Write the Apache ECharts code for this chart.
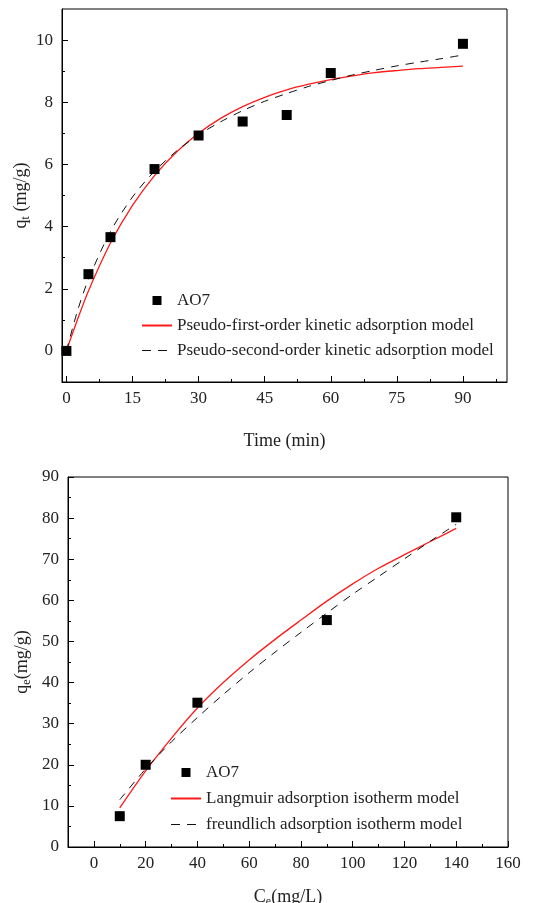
<!DOCTYPE html>
<html><head><meta charset="utf-8">
<script src="https://cdn.jsdelivr.net/npm/echarts@6/dist/echarts.min.js"></script>
<style>html,body{margin:0;padding:0;background:#fff}#c{width:545px;height:903px}</style>
</head><body><div id="c"></div>
<script>
// ---- Top chart: kinetics ----
const kinTime = [0, 5, 10, 20, 30, 40, 50, 60, 90];
const kinQt = [0, 2.47, 3.66, 5.85, 6.93, 7.38, 7.59, 8.94, 9.88];
const kinFitTime = [0, 2.5, 5, 10, 15, 20, 25, 30, 35, 40, 45, 50, 55, 60, 65, 70, 75, 80, 85, 90];
const pfoFit = [0, 1.0, 1.93, 3.47, 4.68, 5.64, 6.40, 7.00, 7.48, 7.86, 8.16, 8.40, 8.58, 8.73, 8.85, 8.95, 9.02, 9.08, 9.12, 9.16];
const psoFit = [0, 1.28, 2.30, 3.84, 4.95, 5.78, 6.43, 6.95, 7.37, 7.73, 8.03, 8.28, 8.51, 8.70, 8.88, 9.03, 9.17, 9.29, 9.40, 9.52];
const kinXTicks = [0, 15, 30, 45, 60, 75, 90];
const kinXMinor = [7.5, 22.5, 37.5, 52.5, 67.5, 82.5, 97.5];
const kinYTicks = [0, 2, 4, 6, 8, 10];
const kinYMinor = [1, 3, 5, 7, 9];

// ---- Bottom chart: isotherms ----
const isoCe = [10, 20, 40, 90, 140];
const isoQe = [7.5, 20.0, 35.1, 55.2, 80.2];
const isoFitCe = [10, 20, 30, 40, 50, 60, 70, 80, 90, 100, 110, 120, 130, 140];
const langFit = [9.5, 18.5, 26.5, 33.8, 40.0, 45.5, 50.5, 55.2, 59.8, 64.0, 67.8, 71.1, 74.3, 77.5];
const freundFit = [11.5, 19.0, 25.6, 31.5, 37.1, 42.4, 47.4, 52.2, 56.9, 61.5, 65.8, 70.1, 74.4, 78.5];
const isoXTicks = [0, 20, 40, 60, 80, 100, 120, 140, 160];
const isoXMinor = [10, 30, 50, 70, 90, 110, 130, 150];
const isoYTicks = [0, 10, 20, 30, 40, 50, 60, 70, 80, 90];
const isoYMinor = [5, 15, 25, 35, 45, 55, 65, 75, 85];

const FONT = 'Liberation Serif';
const TXT = '#222';
const RED = '#ff1a1a';
const sq = 'path://M0,0M30,14M10.5,2.5h9v9h-9z';

function pairs(xs, ys) { return xs.map((x, i) => [x, ys[i]]); }

function mainAxis(grid, min, max, ticks, name, gap, pos) {
  return {
    type: 'value', gridIndex: grid, min: min, max: max, position: pos,
    name: name, nameLocation: 'middle', nameGap: gap, nameMoveOverlap: false,
    nameTextStyle: { fontFamily: FONT, fontSize: 18, color: TXT, rich: {
      a: { fontFamily: FONT, fontSize: 18, color: TXT },
      s: { fontFamily: FONT, fontSize: 12, color: TXT, padding: [10, 0, 0, 0] } } },
    axisLine: { show: true, onZero: false, lineStyle: { color: '#000', width: 1 } },
    axisTick: { show: true, inside: true, length: 6, customValues: ticks, lineStyle: { color: '#000' } },
    axisLabel: { customValues: ticks, margin: pos === 'left' ? 9 : 8, fontFamily: FONT, fontSize: 17, color: TXT },
    splitLine: { show: false }
  };
}
function minorAxis(grid, min, max, ticks, pos) {
  return {
    type: 'value', gridIndex: grid, min: min, max: max, position: pos,
    axisLine: { show: false, onZero: false },
    axisTick: { show: true, inside: true, length: 3, customValues: ticks, lineStyle: { color: '#000' } },
    axisLabel: { show: false },
    splitLine: { show: false }
  };
}
function legendLine(name, dashed) {
  const d = { name: name, itemStyle: { opacity: 0 } };
  if (dashed) d.lineStyle = { type: [9, 7], width: 1.2 };
  return d;
}

const gridBase = { show: true, borderColor: '#000', borderWidth: 1, backgroundColor: 'transparent', containLabel: false, outerBoundsMode: 'none' };

const option = {
  animation: false,
  backgroundColor: '#fff',
  grid: [
    Object.assign({ left: 62, right: 38, top: 9, height: 373 }, gridBase),
    Object.assign({ left: 68, right: 37, top: 477, height: 370 }, gridBase)
  ],
  xAxis: [
    mainAxis(0, -1, 100, kinXTicks, 'Time (min)', 50, 'bottom'),
    minorAxis(0, -1, 100, kinXMinor, 'bottom'),
    mainAxis(1, -10, 160, isoXTicks, '{a|C}{s|e}{a|(mg/L)}', 39, 'bottom'),
    minorAxis(1, -10, 160, isoXMinor, 'bottom')
  ],
  yAxis: [
    Object.assign(mainAxis(0, -1, 11, kinYTicks, '{a|q}{s|t}{a| (mg/g)}', 30, 'left'), { nameRotate: 90 }),
    minorAxis(0, -1, 11, kinYMinor, 'left'),
    Object.assign(mainAxis(1, 0, 90, isoYTicks, '{a|q}{s|e}{a|(mg/g)}', 35, 'left'), { nameRotate: 90 }),
    minorAxis(1, 0, 90, isoYMinor, 'left')
  ],
  legend: [
    {
      orient: 'vertical', left: 136, top: 287, itemWidth: 30, itemHeight: 14, itemGap: 8,
      textStyle: { fontFamily: FONT, fontSize: 17, color: TXT, lineHeight: 16 },
      data: [{ name: 'AO7', icon: sq }, legendLine('Pseudo-first-order kinetic adsorption model'), legendLine('Pseudo-second-order kinetic adsorption model', true)]
    },
    {
      orient: 'vertical', left: 165, top: 759, itemWidth: 30, itemHeight: 14, itemGap: 9,
      textStyle: { fontFamily: FONT, fontSize: 17, color: TXT, lineHeight: 16 },
      data: [{ name: 'AO7 ', icon: sq }, legendLine('Langmuir adsorption isotherm model'), legendLine('freundlich adsorption isotherm model', true)]
    }
  ],
  series: [
    { name: 'Pseudo-first-order kinetic adsorption model', type: 'line', xAxisIndex: 0, yAxisIndex: 0,
      data: pairs(kinFitTime, pfoFit), smooth: 0.3, showSymbol: false, symbol: 'none',
      lineStyle: { color: RED, width: 1.3 }, itemStyle: { color: RED }, z: 2 },
    { name: 'Pseudo-second-order kinetic adsorption model', type: 'line', xAxisIndex: 0, yAxisIndex: 0,
      data: pairs(kinFitTime, psoFit), smooth: 0.3, showSymbol: false, symbol: 'none',
      lineStyle: { color: '#111', width: 1, type: [8, 7] }, itemStyle: { color: '#111' }, z: 2 },
    { name: 'AO7', type: 'scatter', xAxisIndex: 0, yAxisIndex: 0,
      data: pairs(kinTime, kinQt), symbol: 'rect', symbolSize: 10,
      itemStyle: { color: '#000', opacity: 1 }, z: 3 },
    { name: 'Langmuir adsorption isotherm model', type: 'line', xAxisIndex: 2, yAxisIndex: 2,
      data: pairs(isoFitCe, langFit), smooth: 0.3, showSymbol: false, symbol: 'none',
      lineStyle: { color: RED, width: 1.3 }, itemStyle: { color: RED }, z: 2 },
    { name: 'freundlich adsorption isotherm model', type: 'line', xAxisIndex: 2, yAxisIndex: 2,
      data: pairs(isoFitCe, freundFit), smooth: 0.3, showSymbol: false, symbol: 'none',
      lineStyle: { color: '#111', width: 1, type: [8, 7] }, itemStyle: { color: '#111' }, z: 2 },
    { name: 'AO7 ', type: 'scatter', xAxisIndex: 2, yAxisIndex: 2,
      data: pairs(isoCe, isoQe), symbol: 'rect', symbolSize: 10,
      itemStyle: { color: '#000', opacity: 1 }, z: 3 }
  ]
};
const chart = echarts.init(document.getElementById('c'), null, { renderer: 'canvas' });
chart.setOption(option);
</script></body></html>
